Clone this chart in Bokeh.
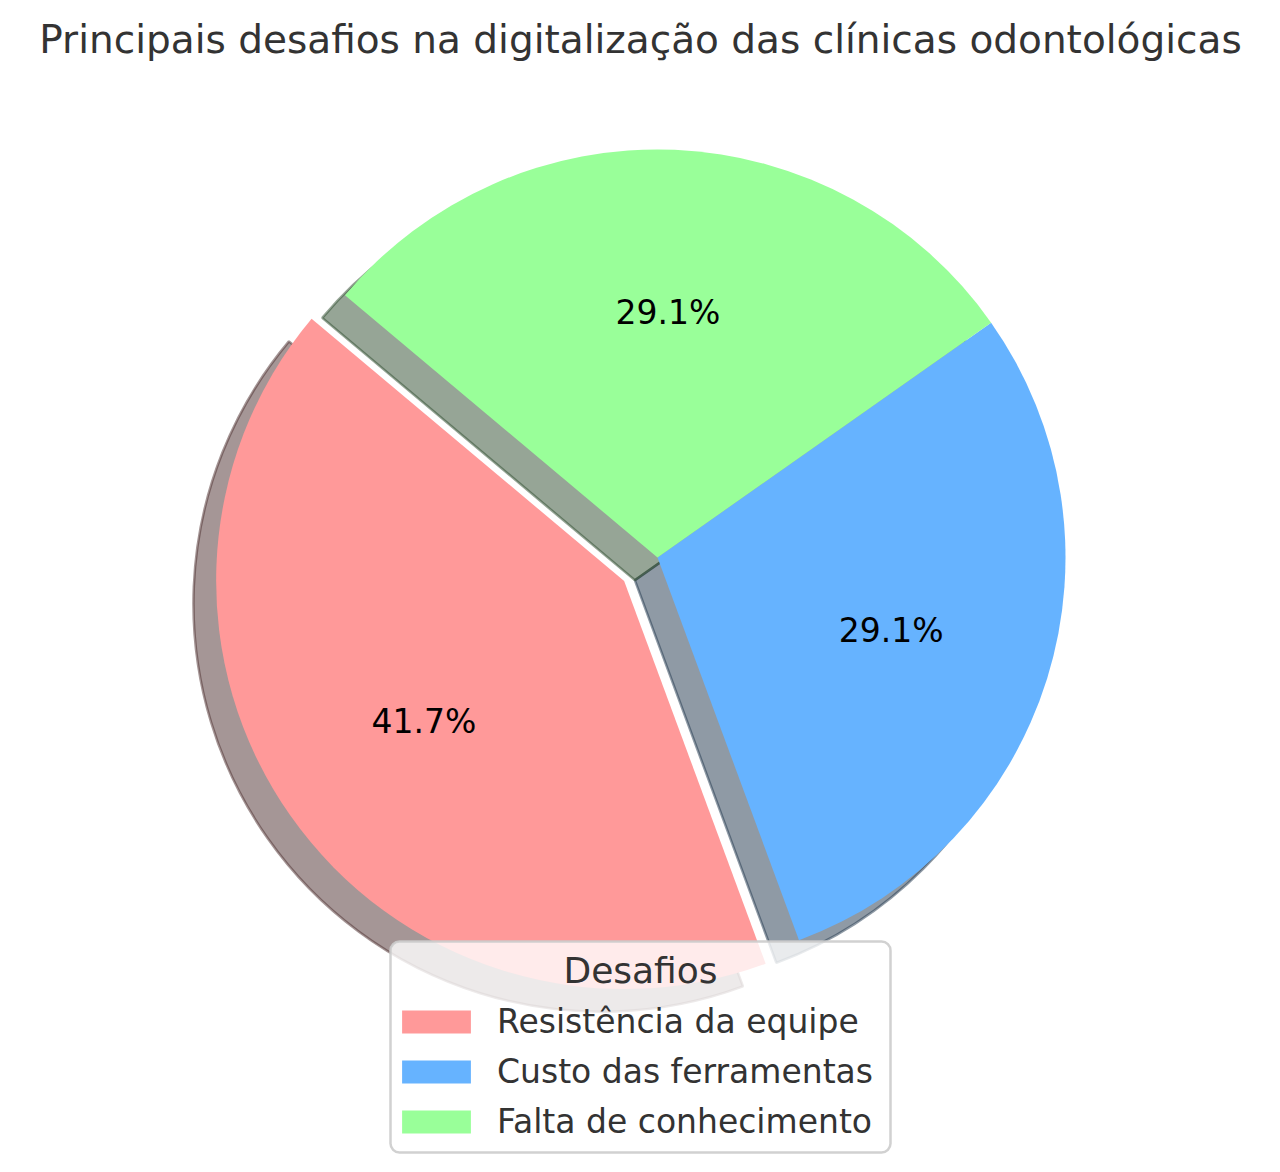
import numpy as np
from bokeh.plotting import figure
from bokeh.models import Range1d, ColumnDataSource, Legend, LegendItem, Label, BoxAnnotation
from bokeh.core.properties import value
from bokeh.embed import file_html
from bokeh.resources import INLINE

# ---------------- data ----------------
title_text = "Principais desafios na digitalização das clínicas odontológicas"
legend_title = "Desafios"
categories = ["Resistência da equipe", "Custo das ferramentas", "Falta de conhecimento"]
values = [43, 30, 30]
colors = ["#ff9999", "#66b3ff", "#99ff99"]
explode = [0.1, 0.0, 0.0]
start_angle_deg = 140

# ---------------- layout ----------------
W, H = 1264, 1156
S = 408.0              # pixels per unit radius
CX, CY = 657, 557      # pixel position of the pie centre


def px(X):
    return (X - CX) / S


def py(Y):
    return (CY - Y) / S


p = figure(width=W, height=H,
           x_range=Range1d(px(0), px(W)),
           y_range=Range1d(py(H), py(0)),
           output_backend="svg", toolbar_location=None,
           x_axis_type=None, y_axis_type=None, min_border=0)
p.grid.visible = False
p.outline_line_color = None
p.background_fill_color = "white"

vals = np.array(values, dtype=float)
fracs = vals / vals.sum()
t1 = np.deg2rad(start_angle_deg + 360 * np.concatenate([[0], np.cumsum(fracs)[:-1]]))
t2 = np.deg2rad(start_angle_deg + 360 * np.cumsum(fracs))
mid = (t1 + t2) / 2
cx = np.array(explode) * np.cos(mid)
cy = np.array(explode) * np.sin(mid)

shadow_off = 0.02 * 200 / 72.0


def darker(hexcol):
    r, g, b = (int(hexcol[i:i + 2], 16) for i in (1, 3, 5))
    return "#%02x%02x%02x" % (round(0.3 * r), round(0.3 * g), round(0.3 * b))


# shadows
for i in range(len(values)):
    sc = darker(colors[i])
    p.wedge(x=cx[i] - shadow_off, y=cy[i] - shadow_off, radius=1.0,
            start_angle=t1[i], end_angle=t2[i], direction="anticlock",
            fill_color=sc, fill_alpha=0.5, line_color=sc, line_alpha=0.5, line_width=2.5)

wedges = []
for i in range(len(values)):
    r = p.wedge(x=cx[i], y=cy[i], radius=1.0,
                start_angle=t1[i], end_angle=t2[i], direction="anticlock",
                fill_color=colors[i], line_color=None)
    wedges.append(r)

# percentage labels
pct = ["%.1f%%" % (100 * f) for f in fracs]
src = ColumnDataSource(dict(x=cx + 0.6 * np.cos(mid), y=cy + 0.6 * np.sin(mid), t=pct))
p.text(x="x", y="y", text="t", source=src,
       text_font=value("DejaVu Sans"), text_font_size=value("33px"),
       text_align="center", text_baseline="middle", text_color="black")

# legend frame
box = BoxAnnotation(left=px(390), right=px(890), top=py(941), bottom=py(1152),
                    fill_color="white", fill_alpha=0.8,
                    line_color="#cccccc", line_alpha=0.9, line_width=2.5,
                    border_radius=9)
p.add_layout(box)

legend = Legend(items=[LegendItem(label=categories[i], renderers=[wedges[i]]) for i in range(len(values))],
                location=(393, 15), padding=0, spacing=11, margin=0,
                glyph_width=86, glyph_height=29, label_height=29, label_standoff=18,
                label_text_font="DejaVu Sans", label_text_font_size="33px",
                label_text_color="#333333",
                border_line_alpha=0, background_fill_alpha=0)
p.add_layout(legend)

p.add_layout(Label(x=px(640), y=py(970), text=legend_title, text_align="center",
                   text_baseline="middle", text_font="DejaVu Sans",
                   text_font_size="36px", text_color="#333333"))

p.add_layout(Label(x=px(640), y=py(39), text=title_text, text_align="center",
                   text_baseline="middle", text_font="DejaVu Sans",
                   text_font_size="39px", text_color="#333333"))

open("out.html", "w").write(file_html(p, INLINE))
